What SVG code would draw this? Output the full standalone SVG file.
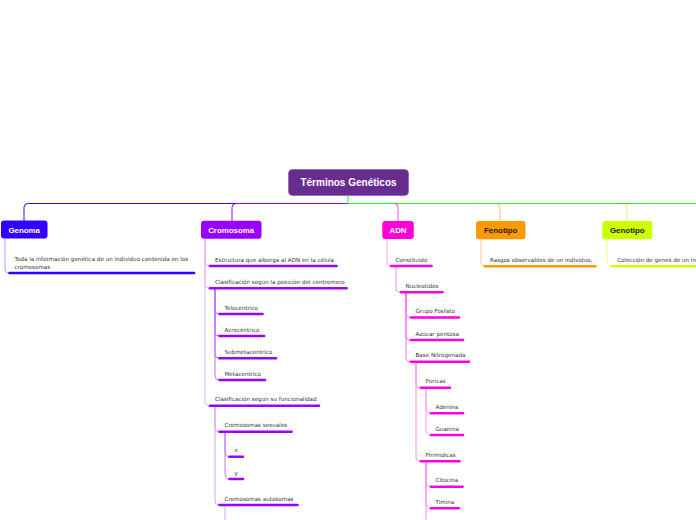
<svg xmlns="http://www.w3.org/2000/svg" width="696" height="520" viewBox="0 0 696 520">
<style>
.lbl{font-family:"DejaVu Sans","Liberation Sans",sans-serif;font-size:5.6px;fill:#333}
.nt{font-family:"Liberation Sans",Arial,sans-serif;font-weight:bold;font-size:7.9px;text-anchor:middle}
.rt{font-family:"Liberation Sans",Arial,sans-serif;font-weight:bold;font-size:10px;fill:#fff;text-anchor:middle}
.ul{fill:none;stroke-width:2.6;stroke-linecap:round}
.br{fill:none;stroke-width:1}
.c1{stroke:#3300ff}.c2{stroke:#9900ff}.c3{stroke:#ff00dd}.c4{stroke:#ff9900}.c5{stroke:#ccff00}
</style>
<rect width="696" height="520" fill="#fff"/>
<g id="connectors">
<path class="br" stroke="#3300ff" d="M348 203.5H28Q24 203.5 24 207.5V221"/>
<path class="br" stroke="#9900ff" d="M348 203.5H236Q232 203.5 232 207.5V221"/>
<path class="br" stroke="#ff44e8" d="M348 203.5H394Q398 203.5 398 207.5V221"/>
<path class="br" stroke="#ffc266" d="M348 203.5H496Q500 203.5 500 207.5V221"/>
<path class="br" stroke="#e4f06a" d="M348 203.5H623Q627 203.5 627 207.5V221"/>
<path class="br" stroke="#33ee11" d="M348 196V203.5H696"/>
<!-- Genoma -->
<path class="br" stroke="#aaa4ff" d="M5 239V269Q5 273 9 273"/>
<!-- Cromosoma -->
<path class="br" stroke="#e2b4ff" d="M205 239V262Q205 266 209 266M205 239V284.3Q205 288.3 209 288.3M205 239V401.7Q205 405.7 209 405.7"/>
<path class="br" stroke="#c070ff" d="M215 288.3V310Q215 314 219 314M215 288.3V332Q215 336 219 336M215 288.3V354.3Q215 358.3 219 358.3M215 288.3V376Q215 380 219 380"/>
<path class="br" stroke="#d9a0ff" d="M215 405.7V427.7Q215 431.7 219 431.7M215 405.7V501Q215 505 219 505"/>
<path class="br" stroke="#c27aff" d="M225 431.7V450Q225 456.7 229 456.7M225 431.7V472Q225 479 229 479"/>
<path class="br" stroke="#d9a0ff" d="M225 505V520"/>
<!-- ADN -->
<path class="br" stroke="#ffa8f4" d="M387 239V262Q387 266 391 266"/>
<path class="br" stroke="#ff80f0" d="M396 266V288.3Q396 292.3 401 292.3"/>
<path class="br" stroke="#ff66ee" d="M406 292.3V313.5Q406 317.5 411 317.5M406 292.3V336Q406 340 411 340M406 292.3V357.7Q406 361.7 411 361.7"/>
<path class="br" stroke="#ff88f2" d="M416 361.7V383.7Q416 387.7 421 387.7M416 361.7V457.3Q416 461.3 421 461.3"/>
<path class="br" stroke="#ff99f4" d="M426 387.7V409.3Q426 413.3 431 413.3M426 387.7V431Q426 435 431 435"/>
<path class="br" stroke="#ff88f2" d="M426 461.3V482.7Q426 486.7 431 486.7M426 461.3V504.3Q426 508.3 431 508.3M426 461.3V520"/>
<!-- Fenotipo / Genotipo -->
<path class="br" stroke="#ffcc80" d="M481 239V262.3Q481 266.3 485 266.3"/>
<path class="br" stroke="#eaff80" d="M607 239V262.3Q607 266.3 612 266.3"/>
</g>
<g id="root">
<rect x="288.5" y="169.5" width="120" height="26" rx="4" fill="#682c91" stroke="#8855aa" stroke-width="0.6"/>
<text class="rt" x="348.5" y="186.3">Términos Genéticos</text>
</g>
<g id="genoma">
<rect x="1" y="220.5" width="46.5" height="18" rx="3" fill="#3300ff"/>
<text class="nt" x="24.2" y="232.5" fill="#fff">Genoma</text>
</g>
<g id="genoma-def">
<text class="lbl" x="14.5" y="261">Toda la información genética de un individuo contenida en los</text>
<text class="lbl" x="14.5" y="268.5">cromosomas</text>
<path class="ul c1" d="M9.5 273H194"/>
</g>
<g id="cromosoma">
<rect x="201" y="220.8" width="60.5" height="18" rx="3" fill="#9900ff"/>
<text class="nt" x="231.2" y="232.8" fill="#fff">Cromosoma</text>
</g>
<g id="crom-estructura"><text class="lbl" x="215" y="261.8">Estructura que alberga al ADN en la célula</text><path class="ul c2" d="M210 266H336.5"/></g>
<g id="crom-centromero"><text class="lbl" x="215" y="284">Clasificación según la posición del centromero</text><path class="ul c2" d="M210 288.3H346.5"/></g>
<g id="telocentrico"><text class="lbl" x="224.5" y="309.7">Telocentrico</text><path class="ul c2" d="M219.5 314H262.5"/></g>
<g id="acrocentrico"><text class="lbl" x="224.5" y="331.7">Acrocéntrico</text><path class="ul c2" d="M219.5 336H264"/></g>
<g id="submetacentrico"><text class="lbl" x="224.5" y="354">Submetacentrico</text><path class="ul c2" d="M219.5 358.3H276"/></g>
<g id="metacentrico"><text class="lbl" x="224.5" y="375.7">Metacentrico</text><path class="ul c2" d="M219.5 380H265"/></g>
<g id="crom-funcionalidad"><text class="lbl" x="215" y="401.4">Clasificación según su funcionalidad</text><path class="ul c2" d="M210 405.7H319"/></g>
<g id="sexuales"><text class="lbl" x="224.5" y="427.4">Cromosomas sexuales</text><path class="ul c2" d="M219.5 431.7H291.5"/></g>
<g id="cx"><text class="lbl" x="234.5" y="452.4">x</text><path class="ul c2" d="M229.5 456.7H243"/></g>
<g id="cy"><text class="lbl" x="234.5" y="474.7">y</text><path class="ul c2" d="M229.5 479H243"/></g>
<g id="autosomas"><text class="lbl" x="224.5" y="500.7">Cromosomas autosomas</text><path class="ul c2" d="M219.5 505H297.5"/></g>
<g id="adn">
<rect x="382.3" y="221" width="31.5" height="18" rx="3" fill="#ff00dd"/>
<text class="nt" x="398" y="233" fill="#fff">ADN</text>
</g>
<g id="constituido"><text class="lbl" x="395.5" y="261.7">Constituido</text><path class="ul c3" d="M391 266H431.5"/></g>
<g id="nucleotidos"><text class="lbl" x="405.5" y="288">Nucleotidos</text><path class="ul c3" d="M401 292.3H442.5"/></g>
<g id="fosfato"><text class="lbl" x="415.5" y="313.2">Grupo Fosfato</text><path class="ul c3" d="M411 317.5H459"/></g>
<g id="pentosa"><text class="lbl" x="415.5" y="335.7">Azúcar pentosa</text><path class="ul c3" d="M411 340H463"/></g>
<g id="nitrogenada"><text class="lbl" x="415.5" y="357.4">Base Nitrogenada</text><path class="ul c3" d="M411 361.7H469"/></g>
<g id="puricas"><text class="lbl" x="425.5" y="383.4">Puricas</text><path class="ul c3" d="M421 387.7H450"/></g>
<g id="adenina"><text class="lbl" x="435.5" y="409">Adenina</text><path class="ul c3" d="M431 413.3H463"/></g>
<g id="guanina"><text class="lbl" x="435.5" y="430.7">Guanina</text><path class="ul c3" d="M431 435H463"/></g>
<g id="pirimidicas"><text class="lbl" x="425.5" y="457">Pirimidicas</text><path class="ul c3" d="M421 461.3H459.5"/></g>
<g id="citocina"><text class="lbl" x="435.5" y="482.4">Citocina</text><path class="ul c3" d="M431 486.7H462.5"/></g>
<g id="timina"><text class="lbl" x="435.5" y="504">Timina</text><path class="ul c3" d="M431 508.3H459"/></g>
<g id="fenotipo">
<rect x="476" y="221" width="49.5" height="18.3" rx="3" fill="#ff9900"/>
<text class="nt" x="500.7" y="233" fill="#1a1a1a">Fenotipo</text>
</g>
<g id="fenotipo-def"><text class="lbl" x="490" y="262">Rasgos observables de un individuo,</text><path class="ul c4" d="M485 266.3H595.5"/></g>
<g id="genotipo">
<rect x="602.3" y="221" width="50" height="18.3" rx="3" fill="#ccff00"/>
<text class="nt" x="627.3" y="233" fill="#1a1a1a">Genotipo</text>
</g>
<g id="genotipo-def"><text class="lbl" x="617" y="262">Colección de genes de un individuo</text><path class="ul c5" d="M612 266.3H700"/></g>
</svg>
